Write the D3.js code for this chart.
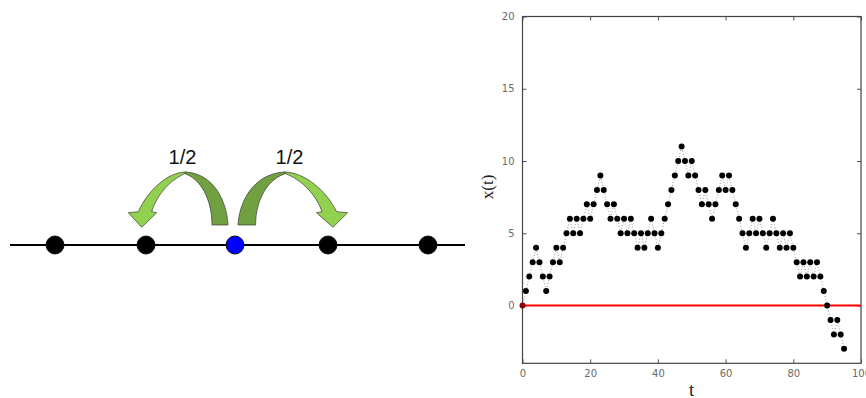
<!DOCTYPE html>
<html>
<head>
<meta charset="utf-8">
<script src="https://cdn.jsdelivr.net/npm/d3@7"></script>
<style>
  html, body { margin: 0; padding: 0; background: #fff; }
  svg { display: block; }
</style>
</head>
<body>
<svg id="chart" width="866" height="398"></svg>
<script>
// Random walk positions x(t), one value per time step t = 0, 1, 2, ...
const xValues = [
  0, 1, 2, 3, 4, 3, 2, 1, 2, 3,
  4, 3, 4, 5, 6, 5, 6, 5, 6, 7,
  6, 7, 8, 9, 8, 7, 6, 7, 6, 5,
  6, 5, 6, 5, 4, 5, 4, 5, 6, 5,
  4, 5, 6, 7, 8, 9, 10, 11, 10, 9,
  10, 9, 8, 7, 8, 7, 6, 7, 8, 9,
  8, 9, 8, 7, 6, 5, 4, 5, 6, 5,
  6, 5, 4, 5, 6, 5, 4, 5, 4, 5,
  4, 3, 2, 3, 2, 3, 2, 3, 2, 1,
  0, -1, -2, -1, -2, -3
];
const tValues = xValues.map((_, i) => i);

// Axis ticks
const tTicks = [0, 20, 40, 60, 80, 100];
const xTicks = [0, 5, 10, 15, 20];

// Lattice sites of the schematic and the site the walker starts from
const sites = [-2, -1, 0, 1, 2];
const startSite = 0;
const hopLabels = ["1/2", "1/2"];

const svg = d3.select("#chart");

// ---------- Left: the lattice with hop probabilities ----------
// hand-drawn spacing of the lattice sites along the line
const siteX = d3.scaleLinear().domain([-2, -1, 0, 1, 2]).range([55, 146, 235, 328, 428]);
const lineY = 245;

const diagram = svg.append("g");

diagram.append("line")
  .attr("x1", 10).attr("x2", 465)
  .attr("y1", lineY).attr("y2", lineY)
  .attr("stroke", "#000").attr("stroke-width", 2);

// Curved hop arrow (pointing left), built from a shaded back band and a lighter front band
const backPath = "M228,225 C227,203 215,174 186,172 L183,173 C201,178 212,200 212,225 Z";
const frontPath = "M186,172 C168,172 148,190 138.3,211.7 L128.3,212.7 L141.7,227.3 L156.7,212.7 L151.7,211.7 C155,200 166,182 184,174 Z";

function hopArrow(g) {
  g.append("path").attr("d", backPath)
    .attr("fill", "#70a040").attr("stroke", "#3b3b3b").attr("stroke-width", 0.7)
    .attr("vector-effect", "non-scaling-stroke");
  g.append("path").attr("d", frontPath)
    .attr("fill", "#92d050").attr("stroke", "#3b3b3b").attr("stroke-width", 0.7)
    .attr("vector-effect", "non-scaling-stroke");
}

hopArrow(diagram.append("g"));
hopArrow(diagram.append("g").attr("transform", "translate(488.8,0) scale(-1.1,1)"));

diagram.selectAll("text.hop")
  .data(hopLabels)
  .join("text")
  .attr("class", "hop")
  .attr("x", (d, i) => i === 0 ? 182.5 : 289.5)
  .attr("y", 163.5)
  .attr("text-anchor", "middle")
  .attr("font-family", "Liberation Sans, Arial, sans-serif")
  .attr("font-size", 20)
  .attr("fill", "#111")
  .text(d => d);

diagram.selectAll("circle.site")
  .data(sites)
  .join("circle")
  .attr("class", "site")
  .attr("cx", d => siteX(d))
  .attr("cy", lineY)
  .attr("r", 9)
  .attr("fill", d => d === startSite ? "#0000ff" : "#000")
  .attr("stroke", "#111")
  .attr("stroke-width", 1);

// ---------- Right: x(t) against t ----------
const x = d3.scaleLinear().domain([0, 100]).range([522.5, 861]);
const y = d3.scaleLinear().domain([-4, 20]).range([363.3, 16.5]);

const plot = svg.append("g");

const tickFont = "DejaVu Sans, Arial, sans-serif";

function styleAxis(g, showLabels) {
  g.select(".domain").remove();
  g.selectAll(".tick line").attr("stroke", "#555");
  g.selectAll(".tick text")
    .attr("fill", showLabels ? "#6a6a6a" : "none")
    .attr("font-family", tickFont)
    .attr("font-size", 10);
}

plot.append("g")
  .attr("transform", `translate(0,${y.range()[0]})`)
  .call(d3.axisBottom(x).tickValues(tTicks).tickSizeInner(-4).tickSizeOuter(0).tickPadding(7))
  .call(g => styleAxis(g, true));

plot.append("g")
  .attr("transform", `translate(0,${y.range()[1]})`)
  .call(d3.axisTop(x).tickValues(tTicks).tickSizeInner(-4).tickSizeOuter(0).tickFormat(""))
  .call(g => styleAxis(g, false));

plot.append("g")
  .attr("transform", `translate(${x.range()[0]},0)`)
  .call(d3.axisLeft(y).tickValues(xTicks).tickSizeInner(-4).tickSizeOuter(0).tickPadding(8))
  .call(g => styleAxis(g, true));

plot.append("g")
  .attr("transform", `translate(${x.range()[1]},0)`)
  .call(d3.axisRight(y).tickValues(xTicks).tickSizeInner(-4).tickSizeOuter(0).tickFormat(""))
  .call(g => styleAxis(g, false));

// Frame
plot.append("rect")
  .attr("x", x.range()[0]).attr("y", y.range()[1])
  .attr("width", x.range()[1] - x.range()[0])
  .attr("height", y.range()[0] - y.range()[1])
  .attr("fill", "none").attr("stroke", "#444").attr("stroke-width", 1.2);

// Reference line at x = 0
plot.append("line")
  .attr("x1", x(0)).attr("x2", x(100))
  .attr("y1", y(0)).attr("y2", y(0))
  .attr("stroke", "#ff0000").attr("stroke-width", 2);

const points = tValues.map((t, i) => ({ t, v: xValues[i] }));

// Dotted trace joining successive steps
plot.append("path")
  .datum(points)
  .attr("d", d3.line().x(d => x(d.t)).y(d => y(d.v)))
  .attr("fill", "none")
  .attr("stroke", "#999")
  .attr("stroke-width", 1)
  .attr("stroke-dasharray", "1,2");

plot.selectAll("circle.step")
  .data(points)
  .join("circle")
  .attr("class", "step")
  .attr("cx", d => x(d.t))
  .attr("cy", d => y(d.v))
  .attr("r", 3)
  .attr("fill", d => d.t === 0 ? "#8b0000" : "#000");

// Axis titles
plot.append("text")
  .attr("x", x(50))
  .attr("y", 395.5)
  .attr("text-anchor", "middle")
  .attr("font-family", "Liberation Serif, Times New Roman, serif")
  .attr("font-size", 19)
  .attr("fill", "#222")
  .text("t");

plot.append("text")
  .attr("transform", `translate(493,${(y.range()[0] + y.range()[1]) / 2 - 3}) rotate(-90)`)
  .attr("text-anchor", "middle")
  .attr("font-family", "Liberation Serif, Times New Roman, serif")
  .attr("font-size", 17)
  .attr("fill", "#222")
  .text("x(t)");
</script>
</body>
</html>
